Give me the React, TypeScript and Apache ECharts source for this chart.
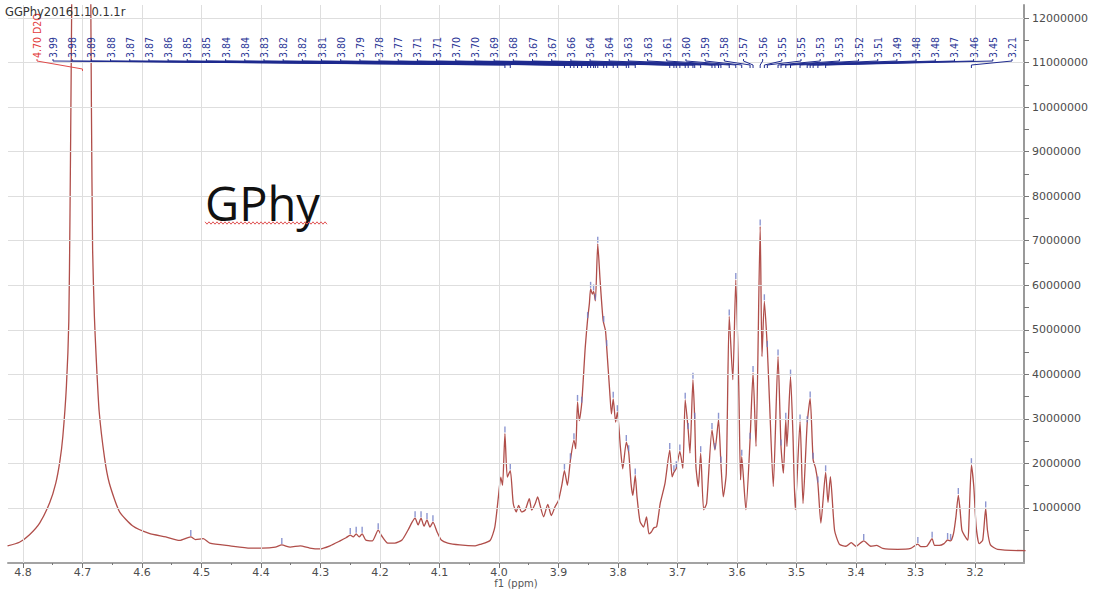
import { useEffect, useRef } from 'react';
import * as echarts from 'echarts';

// 1H NMR trace: [chemical shift (ppm), intensity]
const spectrum: [number, number][] = [
  [4.826, 0.15e6], [4.806, 0.23e6], [4.789, 0.4e6], [4.772, 0.66e6], [4.755, 1.12e6],
  [4.745, 1.55e6], [4.738, 2.05e6], [4.733, 2.61e6], [4.727, 3.74e6], [4.723, 5.19e6],
  [4.721, 7.6e6], [4.719, 10.8e6], [4.7175, 13.5e6], [4.7, 48e6], [4.6865, 13.5e6],
  [4.685, 10.0e6], [4.683, 6.8e6], [4.68, 5.3e6], [4.677, 4.38e6], [4.672, 3.17e6],
  [4.663, 2.13e6], [4.655, 1.56e6], [4.638, 0.92e6], [4.616, 0.6e6], [4.588, 0.43e6],
  [4.56, 0.35e6], [4.537, 0.27e6], [4.518, 0.35e6], [4.51, 0.29e6], [4.497, 0.31e6],
  [4.486, 0.21e6], [4.452, 0.15e6], [4.418, 0.1e6], [4.398, 0.1e6], [4.376, 0.12e6],
  [4.365, 0.17e6], [4.351, 0.12e6], [4.334, 0.15e6], [4.318, 0.1e6], [4.301, 0.08e6],
  [4.284, 0.15e6], [4.267, 0.26e6], [4.257, 0.33e6], [4.25, 0.39e6], [4.245, 0.35e6],
  [4.24, 0.42e6], [4.235, 0.35e6], [4.23, 0.42e6], [4.224, 0.28e6], [4.213, 0.26e6],
  [4.203, 0.5e6], [4.197, 0.37e6], [4.187, 0.21e6], [4.175, 0.21e6], [4.163, 0.28e6],
  [4.153, 0.5e6], [4.146, 0.68e6], [4.141, 0.77e6], [4.136, 0.62e6], [4.131, 0.77e6],
  [4.126, 0.59e6], [4.121, 0.73e6], [4.116, 0.57e6], [4.111, 0.68e6], [4.104, 0.46e6],
  [4.097, 0.28e6], [4.086, 0.21e6], [4.066, 0.17e6], [4.04, 0.15e6], [4.032, 0.18e6],
  [4.015, 0.27e6], [4.007, 0.57e6], [4.001, 1.25e6], [3.997, 1.69e6], [3.994, 1.51e6],
  [3.99, 2.67e6], [3.986, 1.69e6], [3.981, 1.84e6], [3.976, 1.1e6], [3.971, 0.91e6],
  [3.967, 1.06e6], [3.962, 0.91e6], [3.956, 0.95e6], [3.949, 1.21e6], [3.945, 0.95e6],
  [3.939, 1.1e6], [3.935, 1.25e6], [3.931, 1.06e6], [3.925, 0.8e6], [3.918, 1.08e6],
  [3.912, 0.83e6], [3.906, 1.02e6], [3.9, 1.17e6], [3.894, 1.54e6], [3.89, 1.84e6],
  [3.885, 1.51e6], [3.88, 2.07e6], [3.874, 2.52e6], [3.871, 2.33e6], [3.868, 3.38e6],
  [3.865, 2.96e6], [3.861, 3.34e6], [3.855, 4.61e6], [3.851, 5.24e6], [3.848, 5.6e6],
  [3.846, 5.92e6], [3.843, 5.8e6], [3.841, 5.86e6], [3.838, 5.65e6], [3.834, 6.93e6],
  [3.83, 6.1e6], [3.825, 5.21e6], [3.821, 4.98e6], [3.819, 4.61e6], [3.814, 3.64e6],
  [3.811, 3.11e6], [3.808, 3.45e6], [3.804, 2.93e6], [3.801, 3.15e6], [3.796, 2.37e6],
  [3.792, 1.88e6], [3.786, 2.48e6], [3.782, 2.25e6], [3.778, 1.54e6], [3.775, 1.28e6],
  [3.771, 1.73e6], [3.768, 1.25e6], [3.763, 0.7e6], [3.757, 0.57e6], [3.752, 0.8e6],
  [3.748, 0.42e6], [3.744, 0.46e6], [3.74, 0.55e6], [3.735, 0.58e6], [3.729, 1.1e6],
  [3.721, 1.55e6], [3.713, 2.3e6], [3.709, 1.7e6], [3.706, 1.8e6], [3.702, 1.89e6],
  [3.696, 2.27e6], [3.691, 1.89e6], [3.687, 3.43e6], [3.682, 2.75e6], [3.679, 2.23e6],
  [3.674, 3.88e6], [3.671, 2.98e6], [3.669, 1.93e6], [3.665, 1.48e6], [3.661, 2.23e6],
  [3.656, 0.96e6], [3.651, 1.1e6], [3.642, 2.75e6], [3.637, 2.3e6], [3.631, 2.98e6],
  [3.627, 2.0e6], [3.623, 1.25e6], [3.618, 1.78e6], [3.613, 5.3e6], [3.607, 3.88e6],
  [3.602, 6.12e6], [3.597, 3.73e6], [3.594, 1.63e6], [3.592, 2.15e6], [3.585, 0.96e6],
  [3.578, 2.53e6], [3.573, 4.03e6], [3.568, 2.38e6], [3.561, 7.32e6], [3.558, 4.4e6],
  [3.554, 5.64e6], [3.549, 4.59e6], [3.545, 3.28e6], [3.539, 1.48e6], [3.531, 4.4e6],
  [3.526, 2.38e6], [3.522, 1.78e6], [3.518, 2.98e6], [3.516, 2.38e6], [3.51, 3.95e6],
  [3.506, 2.68e6], [3.502, 0.96e6], [3.494, 2.94e6], [3.489, 1.1e6], [3.482, 2.9e6],
  [3.477, 3.46e6], [3.472, 2.08e6], [3.468, 1.9e6], [3.464, 1.55e6], [3.459, 0.66e6],
  [3.451, 1.8e6], [3.447, 1.12e6], [3.443, 1.7e6], [3.436, 0.5e6], [3.428, 0.19e6],
  [3.417, 0.14e6], [3.408, 0.22e6], [3.4, 0.14e6], [3.387, 0.26e6], [3.375, 0.14e6],
  [3.365, 0.16e6], [3.355, 0.09e6], [3.33, 0.07e6], [3.308, 0.09e6], [3.296, 0.19e6],
  [3.291, 0.13e6], [3.281, 0.14e6], [3.272, 0.31e6], [3.268, 0.16e6], [3.26, 0.16e6],
  [3.252, 0.2e6], [3.246, 0.28e6], [3.241, 0.26e6], [3.236, 0.43e6], [3.232, 0.8e6],
  [3.228, 1.29e6], [3.225, 0.95e6], [3.222, 0.5e6], [3.218, 0.39e6], [3.212, 0.28e6],
  [3.21, 0.73e6], [3.206, 1.96e6], [3.202, 1.48e6], [3.198, 0.58e6], [3.193, 0.2e6],
  [3.187, 0.28e6], [3.182, 0.99e6], [3.179, 0.5e6], [3.174, 0.17e6], [3.162, 0.07e6],
  [3.115, 0.04e6],
];

// picked peaks that carry a shift label
const labelledPeaks = [
  3.99, 3.981, 3.89, 3.88, 3.874, 3.868, 3.861, 3.851, 3.846, 3.841, 3.838, 3.834,
  3.824, 3.819, 3.808, 3.801, 3.786, 3.782, 3.771, 3.713, 3.706, 3.702, 3.696, 3.687,
  3.682, 3.674, 3.671, 3.661, 3.642, 3.637, 3.631, 3.627, 3.613, 3.602, 3.592, 3.578,
  3.573, 3.561, 3.554, 3.549, 3.531, 3.526, 3.518, 3.51, 3.494, 3.482, 3.477, 3.472,
  3.464, 3.451, 3.206,
];
// picked peaks without a label
const unlabelledPeaks = [
  4.518, 4.365, 4.25, 4.24, 4.23, 4.203, 4.141, 4.131, 4.121, 4.111,
  3.387, 3.296, 3.272, 3.246, 3.241, 3.228, 3.182,
];
const solventShift = 4.7;
const solventName = 'D2O';

const ppmTicks = [4.8, 4.7, 4.6, 4.5, 4.4, 4.3, 4.2, 4.1, 4.0, 3.9, 3.8, 3.7, 3.6, 3.5, 3.4, 3.3, 3.2];
const ppmMinorTicks = [4.75, 4.65, 4.55, 4.45, 4.35, 4.25, 4.15, 4.05, 3.95, 3.85, 3.75, 3.65, 3.55, 3.45, 3.35, 3.25, 3.15];
const intensityTicks = [1e6, 2e6, 3e6, 4e6, 5e6, 6e6, 7e6, 8e6, 9e6, 10e6, 11e6, 12e6];
const intensityHalfTicks = [
  0.5e6, 1e6, 1.5e6, 2e6, 2.5e6, 3e6, 3.5e6, 4e6, 4.5e6, 5e6, 5.5e6, 6e6,
  6.5e6, 7e6, 7.5e6, 8e6, 8.5e6, 9e6, 9.5e6, 10e6, 10.5e6, 11e6, 11.5e6, 12e6,
];

const sampleName = 'GGPhy20161.10.1.1r';
const sampleTag = 'GPhy';

const PPM_MIN = 3.1176;
const PPM_MAX = 4.8252;
const INT_MIN = -236000;
const INT_MAX = 12292000;

function traceAt(ppm: number): number {
  for (let i = 0; i < spectrum.length - 1; i++) {
    const [a, ya] = spectrum[i];
    const [b, yb] = spectrum[i + 1];
    if (ppm <= a && ppm >= b) {
      const t = (a - ppm) / (a - b);
      return ya + t * (yb - ya);
    }
  }
  return 0;
}

const AXIS_FONT = '"DejaVu Sans", Verdana, sans-serif';
const LABEL_FONT = '"DejaVu Sans Condensed", "DejaVu Sans", sans-serif';

export default function App() {
  const ref = useRef<HTMLDivElement>(null);

  useEffect(() => {
    const chart = echarts.init(ref.current!, null, { renderer: 'svg' });

    const xBase = {
      type: 'value' as const,
      min: PPM_MIN,
      max: PPM_MAX,
      inverse: true,
      position: 'bottom' as const,
      splitLine: { show: false },
    };

    chart.setOption({
      animation: false,
      backgroundColor: '#ffffff',
      grid: { left: 8, right: 76, top: 5, bottom: 29, containLabel: false, outerBoundsMode: 'none' },
      xAxis: [
        {
          ...xBase,
          name: 'f1 (ppm)',
          nameLocation: 'middle',
          nameGap: 15,
          nameMoveOverlap: false,
          nameTextStyle: { fontSize: 10, color: '#555', fontFamily: AXIS_FONT, verticalAlign: 'top' },
          axisLine: { show: true, onZero: false, lineStyle: { color: '#a3a3a3', width: 2 } },
          axisTick: { show: true, customValues: ppmTicks, length: 5, lineStyle: { color: '#777' } },
          axisLabel: {
            customValues: ppmTicks,
            formatter: (v: number) => v.toFixed(1),
            fontSize: 11,
            color: '#4d4d4d',
            fontFamily: AXIS_FONT,
            margin: 4,
          },
        },
        {
          ...xBase,
          axisLine: { show: false, onZero: false },
          axisTick: { show: true, customValues: ppmMinorTicks, length: 2, lineStyle: { color: '#777' } },
          axisLabel: { show: false },
        },
      ],
      yAxis: {
        type: 'value',
        position: 'right',
        min: INT_MIN,
        max: INT_MAX,
        splitLine: { show: false },
        axisLine: { show: true, onZero: false, lineStyle: { color: '#9a9a9a', width: 2 } },
        axisTick: { show: true, customValues: intensityHalfTicks, length: 5, lineStyle: { color: '#777' } },
        axisLabel: {
          customValues: intensityTicks,
          formatter: (v: number) => String(Math.round(v)),
          fontSize: 11,
          color: '#4d4d4d',
          fontFamily: AXIS_FONT,
          margin: 8,
        },
      },
      series: [
        {
          name: 'grid',
          type: 'line',
          data: [],
          silent: true,
          z: 0,
          markLine: {
            silent: true,
            symbol: 'none',
            label: { show: false },
            emphasis: { disabled: true },
            lineStyle: { color: '#dedede', width: 1, type: 'solid' },
            data: [
              ...ppmTicks.map((v) => ({ xAxis: v })),
              ...intensityTicks.map((v) => ({ yAxis: v })),
            ],
          },
        },
        {
          name: 'f1',
          type: 'line',
          data: spectrum,
          showSymbol: false,
          smooth: 0.2,
          z: 3,
          lineStyle: { color: '#b04e4a', width: 1.3 },
        },
        {
          name: 'peaks',
          type: 'scatter',
          z: 4,
          symbol: 'rect',
          symbolSize: [1.4, 6],
          symbolOffset: [0, -4],
          itemStyle: { color: '#6f7cc6' },
          data: [...labelledPeaks, ...unlabelledPeaks].map((p) => [p, traceAt(p)]),
        },
      ],
    });

    const toX = (ppm: number) => chart.convertToPixel({ xAxisIndex: 0 }, ppm) as number;
    const labelFont = `10.5px ${LABEL_FONT}`;

    const elements: any[] = [];

    // sample name, top-left
    elements.push({
      type: 'text',
      x: 5,
      y: 12,
      z: 10,
      style: {
        text: sampleName,
        fill: '#333',
        font: `11.5px ${AXIS_FONT}`,
        align: 'left',
        verticalAlign: 'middle',
        textAlign: 'left',
        textVerticalAlign: 'middle',
      },
    });

    // shift labels, spread evenly along the top
    const firstX = 53;
    const lastX = 1012;
    const step = (lastX - firstX) / (labelledPeaks.length - 1);
    const labelBase = 58;
    labelledPeaks.forEach((p, i) => {
      const lx = firstX + i * step;
      const px = toX(p);
      elements.push({
        type: 'polyline',
        z: 8,
        silent: true,
        shape: { points: [[lx, labelBase + 1], [lx, labelBase + 3], [px, labelBase + 7], [px, labelBase + 10]] },
        style: { stroke: '#1f2b8f', lineWidth: 1, fill: null },
      });
      elements.push({
        type: 'text',
        x: lx,
        y: labelBase,
        rotation: Math.PI / 2,
        z: 9,
        style: {
          text: p.toFixed(2),
          fill: '#2b3596',
          font: labelFont,
          align: 'left',
          verticalAlign: 'middle',
          textAlign: 'left',
          textVerticalAlign: 'middle',
        },
      });
    });

    // solvent label
    const sx = 37;
    const spx = toX(solventShift);
    elements.push({
      type: 'polyline',
      z: 8,
      silent: true,
      shape: { points: [[sx, labelBase + 1], [sx, labelBase + 3], [spx, labelBase + 11], [spx, labelBase + 13]] },
      style: { stroke: '#e04a4a', lineWidth: 1, fill: null },
    });
    elements.push({
      type: 'text',
      x: sx,
      y: labelBase,
      rotation: Math.PI / 2,
      z: 9,
      style: {
        text: `${solventShift.toFixed(2)} ${solventName}`,
        fill: '#e23c3c',
        font: labelFont,
        align: 'left',
        verticalAlign: 'middle',
        textAlign: 'left',
        textVerticalAlign: 'middle',
      },
    });

    // sample tag with a spell-check squiggle under it
    elements.push({
      type: 'text',
      x: 205,
      y: 203,
      z: 9,
      style: {
        text: sampleTag,
        fill: '#111',
        font: '47px "Open Sans", "Noto Sans", sans-serif',
        align: 'left',
        verticalAlign: 'middle',
        textAlign: 'left',
        textVerticalAlign: 'middle',
      },
    });
    const squiggle: number[][] = [];
    for (let x = 205, k = 0; x <= 328; x += 2, k++) {
      squiggle.push([x, 223 + (k % 2 === 0 ? -1.2 : 1.2)]);
    }
    elements.push({
      type: 'polyline',
      z: 9,
      silent: true,
      shape: { points: squiggle },
      style: { stroke: '#e05555', lineWidth: 1, fill: null },
    });

    chart.setOption({ graphic: elements });

    return () => chart.dispose();
  }, []);

  return (
    <div
      ref={ref}
      style={{ position: 'fixed', left: 0, top: 0, width: 1100, height: 592, background: '#fff' }}
    />
  );
}
